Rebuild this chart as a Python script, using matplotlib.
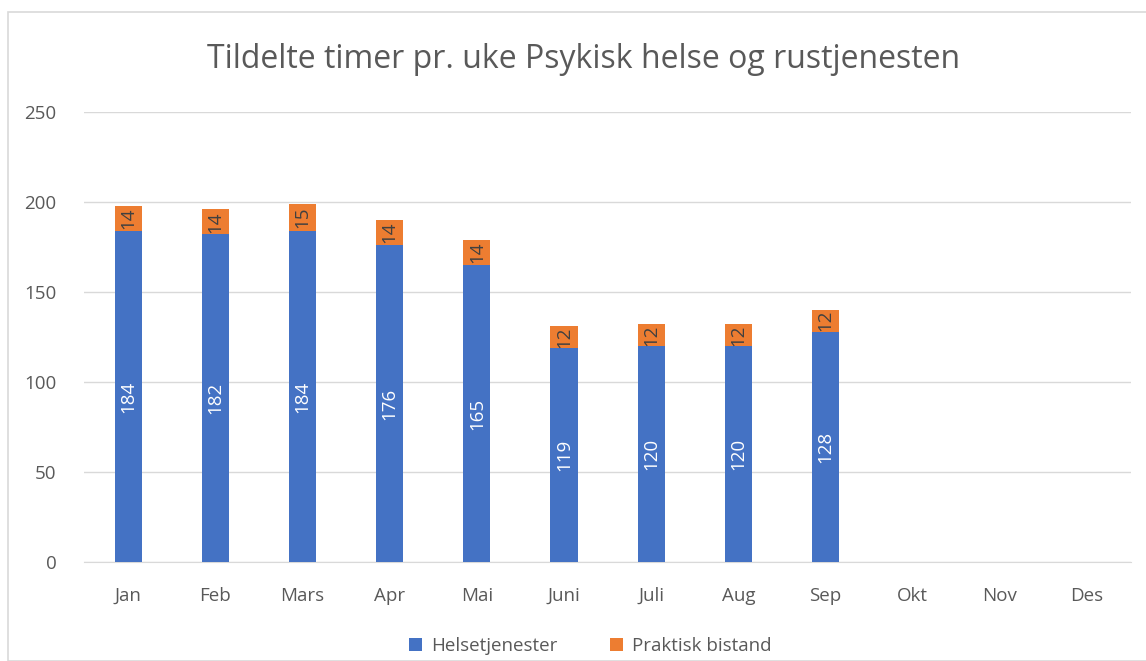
import matplotlib
matplotlib.use('Agg')
import matplotlib.pyplot as plt
import numpy as np
from matplotlib.patches import Rectangle

months = ['Jan', 'Feb', 'Mars', 'Apr', 'Mai', 'Juni', 'Juli', 'Aug', 'Sep', 'Okt', 'Nov', 'Des']
helse = [184, 182, 184, 176, 165, 119, 120, 120, 128]
praktisk = [14, 14, 15, 14, 14, 12, 12, 12, 12]

plt.rcParams['font.family'] = ['Open Sans', 'DejaVu Sans']

fig = plt.figure(figsize=(11.46, 6.61), dpi=100)
ax = fig.add_axes([0.0737, 0.1498, 0.913, 0.6808])

# frame round the chart
fig.patches.append(Rectangle((8 / 1146, 0), 1.2, (661 - 12) / 661, transform=fig.transFigure,
                             fill=False, edgecolor='#d9d9d9', lw=1.2))

pos = np.arange(len(months))
n = len(helse)
width = 0.31
b1 = ax.bar(pos[:n], helse, width, color='#4472C4', label='Helsetjenester', zorder=3)
b2 = ax.bar(pos[:n], praktisk, width, bottom=helse, color='#ED7D31', label='Praktisk bistand', zorder=3)

for r, v in zip(b1, helse):
    ax.text(r.get_x() + r.get_width() / 2, r.get_y() + v / 2, str(v), rotation=90,
            ha='center', va='center', color='white', fontsize=13.5, zorder=4)
for r, v in zip(b2, praktisk):
    ax.text(r.get_x() + r.get_width() / 2, r.get_y() + v / 2, str(v), rotation=90,
            ha='center', va='center', color='#404040', fontsize=13.5, zorder=4)

ax.set_xlim(-0.5, len(months) - 0.5)
ax.set_ylim(0, 250)
ax.set_yticks(range(0, 251, 50))
ax.set_xticks(pos)
ax.set_xticklabels(months)
ax.tick_params(axis='both', length=0, labelsize=13.5, colors='#595959')
ax.tick_params(axis='x', pad=18)
ax.tick_params(axis='y', pad=20)
ax.grid(axis='y', color='#d9d9d9', lw=1, zorder=0)
for s in ['top', 'right', 'left']:
    ax.spines[s].set_visible(False)
ax.spines['bottom'].set_color('#d9d9d9')

fig.text(0.509, 0.91, 'Tildelte timer pr. uke Psykisk helse og rustjenesten',
         ha='center', va='center', fontsize=23, color='#595959')

fig.legend(loc='center', bbox_to_anchor=(0.515, 0.022), ncol=2, frameon=False,
           fontsize=13.5, labelcolor='#595959', handlelength=0.7, handleheight=0.7,
           columnspacing=2.8, handletextpad=0.5)

fig.savefig('out.png', dpi=100)
